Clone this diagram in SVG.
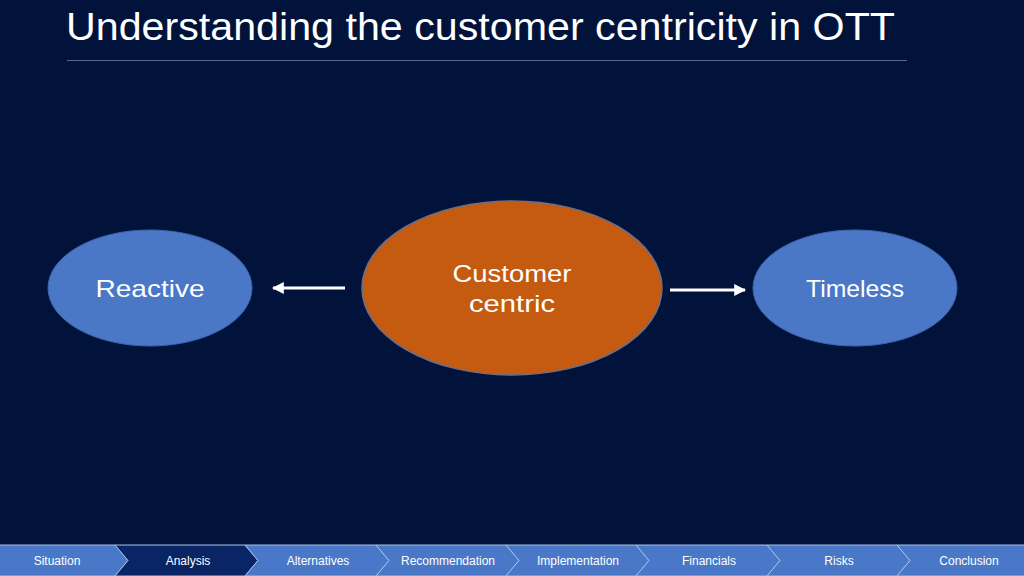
<svg xmlns="http://www.w3.org/2000/svg" width="1024" height="576" viewBox="0 0 1024 576">
<defs>
<style>
.t{font-family:"Liberation Sans","DejaVu Sans",sans-serif;fill:#fff}
.lbl{font-size:24px;text-anchor:middle}
.nav{font-size:12px;text-anchor:middle}
.seg{fill:#4a78c8;stroke:#a9c1ea;stroke-width:1}
.cur{fill:#0a2566}
.con{stroke:#fff;stroke-width:3;fill:none}
</style>
<marker id="ah" viewBox="0 0 10 10" refX="9" refY="5" markerWidth="4" markerHeight="4" orient="auto-start-reverse" markerUnits="strokeWidth">
<path d="M0,0 L10,5 L0,10 z" fill="#fff"/>
</marker>
</defs>
<rect width="1024" height="576" fill="#01133a"/>
<text class="t" x="66" y="40" font-size="38" textLength="829" lengthAdjust="spacingAndGlyphs">Understanding the customer centricity in OTT</text>
<line x1="67" y1="60.5" x2="907" y2="60.5" stroke="#5a6a88" stroke-width="1"/>

<g id="reactive">
<ellipse cx="150" cy="288" rx="102" ry="58" fill="#4a77c6" stroke="#3c64ad" stroke-width="1"/>
<text class="t lbl" x="150" y="297" textLength="109" lengthAdjust="spacingAndGlyphs">Reactive</text>
</g>
<g id="customer-centric">
<ellipse cx="512" cy="288" rx="150" ry="87" fill="#c55a11" stroke="#6a6f8a" stroke-width="1.5"/>
<text class="t lbl" x="512" y="282" textLength="119" lengthAdjust="spacingAndGlyphs">Customer</text>
<text class="t lbl" x="512" y="312" textLength="86" lengthAdjust="spacingAndGlyphs">centric</text>
</g>
<g id="timeless">
<ellipse cx="855" cy="288" rx="102" ry="58" fill="#4a77c6" stroke="#3c64ad" stroke-width="1"/>
<text class="t lbl" x="855" y="297" textLength="98" lengthAdjust="spacingAndGlyphs">Timeless</text>
</g>

<g id="connectors">
<line class="con" x1="345" y1="288" x2="273" y2="288" marker-end="url(#ah)"/>
<line class="con" x1="670" y1="290" x2="745" y2="290" marker-end="url(#ah)"/>
</g>

<g id="nav">
<polygon class="seg" points="-2,545 115,545 128,560.5 115,576 -2,576"/>
<polygon class="seg cur" points="115,545 245,545 258,560.5 245,576 115,576 128,560.5"/>
<polygon class="seg" points="245,545 376,545 389,560.5 376,576 245,576 258,560.5"/>
<polygon class="seg" points="376,545 506,545 519,560.5 506,576 376,576 389,560.5"/>
<polygon class="seg" points="506,545 636,545 649,560.5 636,576 506,576 519,560.5"/>
<polygon class="seg" points="636,545 767,545 780,560.5 767,576 636,576 649,560.5"/>
<polygon class="seg" points="767,545 897,545 910,560.5 897,576 767,576 780,560.5"/>
<polygon class="seg" points="897,545 1026,545 1026,576 897,576 910,560.5"/>
<text class="t nav" x="57" y="565">Situation</text>
<text class="t nav" x="188" y="565">Analysis</text>
<text class="t nav" x="318" y="565">Alternatives</text>
<text class="t nav" x="448" y="565">Recommendation</text>
<text class="t nav" x="578" y="565">Implementation</text>
<text class="t nav" x="709" y="565">Financials</text>
<text class="t nav" x="839" y="565">Risks</text>
<text class="t nav" x="969" y="565">Conclusion</text>
</g>
</svg>
